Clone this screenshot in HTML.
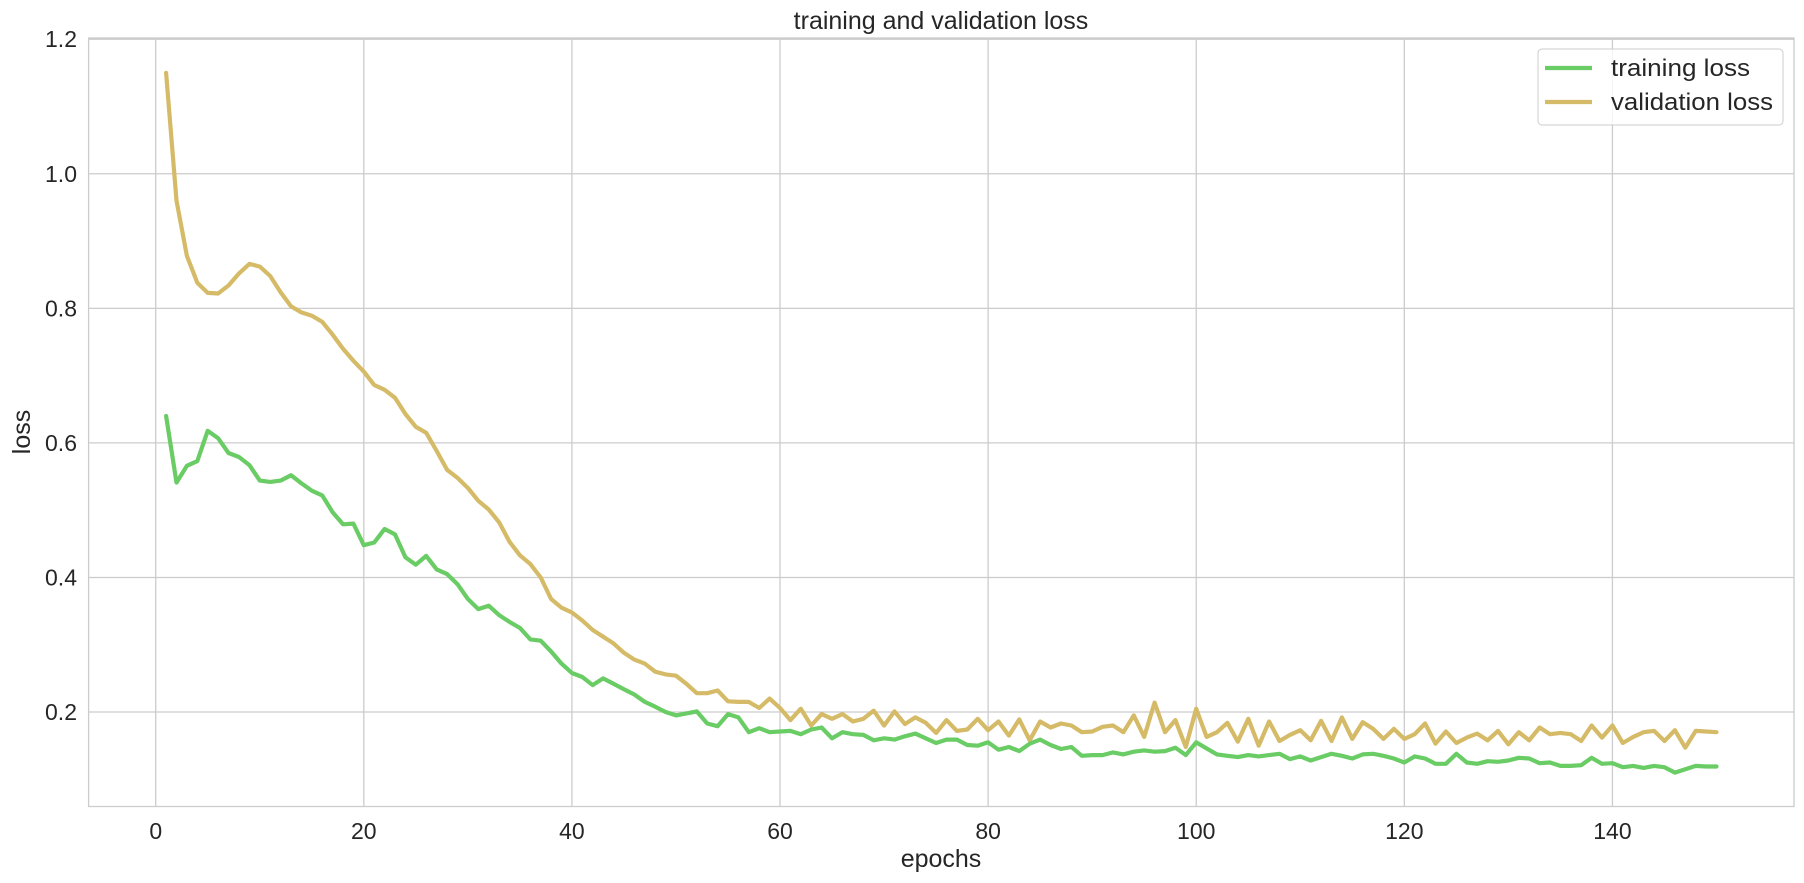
<!DOCTYPE html>
<html><head><meta charset="utf-8"><style>
body{margin:0;background:#fff;}
svg{display:block;font-family:"Liberation Sans","DejaVu Sans",sans-serif;}
</style></head><body>
<svg id="chart" width="1804" height="883" xmlns="http://www.w3.org/2000/svg">
<g id="grid"></g>
<rect x="88.6" y="38" width="1705.4" height="768.5" fill="none" stroke="#cccccc" stroke-width="1.3"/>
<g id="ticks"></g>
<g id="series"></g>
<text x="941" y="29" font-size="25" text-anchor="middle" fill="#262626">training and validation loss</text>
<text x="941" y="867" font-size="25" text-anchor="middle" fill="#262626">epochs</text>
<text x="30" y="432" font-size="25" text-anchor="middle" fill="#262626" transform="rotate(-90 30 432)">loss</text>
<g>
<rect x="1538" y="49" width="245" height="76" rx="4" fill="#fff" fill-opacity="0.8" stroke="#cccccc"/>
<line x1="1545" y1="68" x2="1592" y2="68" stroke="#6acc64" stroke-width="4.2"/>
<text x="1611" y="76" font-size="24" textLength="139" lengthAdjust="spacingAndGlyphs" fill="#262626">training loss</text>
<line x1="1545" y1="102" x2="1592" y2="102" stroke="#d5bb67" stroke-width="4.2"/>
<text x="1611" y="110" font-size="24" textLength="162" lengthAdjust="spacingAndGlyphs" fill="#262626">validation loss</text>
</g>
</svg>
<script>
const xTicks=[0,20,40,60,80,100,120,140];
const yTicks=[0.2,0.4,0.6,0.8,1.0,1.2];
const yTickLabels=["0.2","0.4","0.6","0.8","1.0","1.2"];
const trainLoss=[0.640,0.541,0.566,0.573,0.618,0.607,0.585,0.579,0.567,0.544,0.542,0.544,0.552,0.540,0.529,0.522,0.497,0.479,0.480,0.448,0.452,0.472,0.464,0.430,0.419,0.432,0.412,0.405,0.390,0.368,0.353,0.358,0.344,0.334,0.325,0.308,0.306,0.290,0.272,0.258,0.252,0.240,0.250,0.242,0.234,0.226,0.215,0.208,0.200,0.195,0.198,0.201,0.183,0.179,0.197,0.192,0.170,0.176,0.170,0.171,0.172,0.167,0.174,0.177,0.161,0.170,0.167,0.166,0.158,0.161,0.159,0.164,0.168,0.161,0.154,0.159,0.159,0.151,0.150,0.155,0.144,0.148,0.142,0.153,0.159,0.151,0.145,0.148,0.135,0.136,0.136,0.140,0.137,0.141,0.143,0.141,0.142,0.147,0.136,0.155,0.146,0.137,0.135,0.133,0.136,0.134,0.136,0.138,0.130,0.134,0.128,0.133,0.138,0.135,0.131,0.137,0.138,0.135,0.131,0.125,0.134,0.131,0.123,0.123,0.138,0.125,0.123,0.127,0.126,0.128,0.132,0.131,0.124,0.125,0.120,0.120,0.121,0.132,0.123,0.124,0.118,0.120,0.117,0.120,0.118,0.110,0.115,0.120,0.119,0.119];
const valLoss=[1.150,0.960,0.878,0.838,0.823,0.822,0.834,0.852,0.866,0.862,0.848,0.824,0.803,0.794,0.789,0.780,0.761,0.740,0.722,0.706,0.686,0.679,0.667,0.643,0.624,0.615,0.588,0.560,0.548,0.533,0.514,0.501,0.482,0.453,0.433,0.420,0.400,0.368,0.355,0.348,0.336,0.322,0.312,0.302,0.288,0.278,0.272,0.260,0.256,0.254,0.242,0.228,0.228,0.232,0.216,0.215,0.215,0.206,0.220,0.206,0.188,0.205,0.180,0.197,0.190,0.197,0.186,0.190,0.202,0.180,0.201,0.182,0.192,0.184,0.169,0.188,0.172,0.174,0.190,0.173,0.186,0.165,0.189,0.158,0.186,0.177,0.183,0.180,0.170,0.171,0.178,0.180,0.170,0.195,0.163,0.214,0.170,0.188,0.148,0.205,0.163,0.170,0.184,0.156,0.190,0.150,0.186,0.157,0.166,0.173,0.158,0.187,0.157,0.192,0.160,0.185,0.175,0.160,0.175,0.160,0.167,0.183,0.153,0.171,0.154,0.162,0.168,0.158,0.172,0.152,0.170,0.158,0.177,0.167,0.169,0.167,0.157,0.180,0.162,0.180,0.154,0.163,0.170,0.172,0.157,0.173,0.147,0.172,0.171,0.170];

const NS="http://www.w3.org/2000/svg";
const L=88.6,R=1794,T=38,B=806.5;
const xMin=-6.45,xMax=157.45,yMin=0.0596,yMax=1.2018;
function xs(v){return L+(v-xMin)/(xMax-xMin)*(R-L);}
function ys(v){return B-(v-yMin)/(yMax-yMin)*(B-T);}
const grid=document.getElementById('grid'),ticks=document.getElementById('ticks'),ser=document.getElementById('series');
xTicks.forEach(t=>{
  const l=document.createElementNS(NS,'line');
  l.setAttribute('x1',xs(t));l.setAttribute('x2',xs(t));l.setAttribute('y1',T);l.setAttribute('y2',B);
  l.setAttribute('stroke','#cccccc');l.setAttribute('stroke-width','1.3');
  
  
  grid.appendChild(l);
  const tx=document.createElementNS(NS,'text');
  tx.setAttribute('x',xs(t));tx.setAttribute('y',839);tx.setAttribute('text-anchor','middle');
  tx.setAttribute('font-size','23');tx.setAttribute('fill','#262626');tx.textContent=String(t);
  
  
  ticks.appendChild(tx);
});
yTicks.forEach((t,i)=>{
  const l=document.createElementNS(NS,'line');
  l.setAttribute('x1',L);l.setAttribute('x2',R);l.setAttribute('y1',ys(t));l.setAttribute('y2',ys(t));
  l.setAttribute('stroke','#cccccc');l.setAttribute('stroke-width','1.3');
  
  
  grid.appendChild(l);
  const tx=document.createElementNS(NS,'text');
  tx.setAttribute('x',77);tx.setAttribute('y',ys(t)+8);tx.setAttribute('text-anchor','end');
  tx.setAttribute('font-size','23');tx.setAttribute('fill','#262626');tx.textContent=yTickLabels[i];
  
  
  ticks.appendChild(tx);
});
function draw(arr,color,name){
  const p=document.createElementNS(NS,'polyline');
  p.setAttribute('points',arr.map((v,i)=>xs(i+1).toFixed(1)+','+ys(v).toFixed(1)).join(' '));
  p.setAttribute('fill','none');p.setAttribute('stroke',color);p.setAttribute('stroke-width','4.2');
  p.setAttribute('stroke-linejoin','round');p.setAttribute('stroke-linecap','round');
  
  
  ser.appendChild(p);
}
draw(valLoss,'#d5bb67','validation-loss-line');
draw(trainLoss,'#6acc64','training-loss-line');
</script>
</body></html>
